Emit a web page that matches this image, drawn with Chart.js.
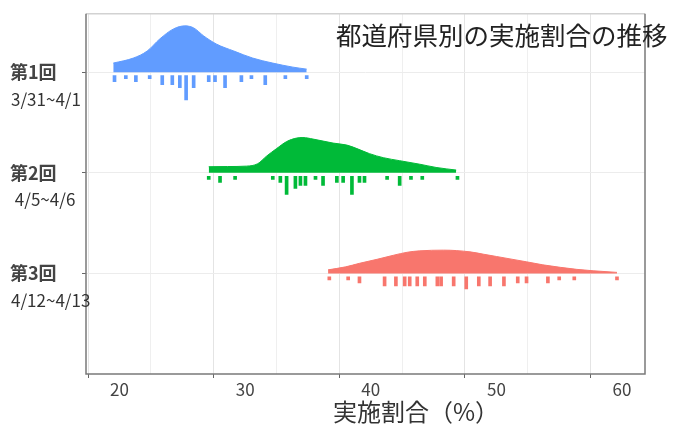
<!DOCTYPE html>
<html lang="ja">
<head>
<meta charset="utf-8">
<title>都道府県別の実施割合の推移</title>
<script src="https://cdn.jsdelivr.net/npm/chart.js@4"></script>
<style>
    html, body { margin: 0; padding: 0; background: #ffffff; }
    canvas { display: block; }
</style>
</head>
<body>
<canvas id="ridgeChart" width="675" height="428"></canvas>
<script>
// data
const rounds = ['第1回', '第2回', '第3回'];
const dates = ['3/31~4/1', ' 4/5~4/6', '4/12~4/13'];
const colors = ['#619CFF', '#00BA38', '#F8766D'];

// density outline (x = 実施割合 %, h = ridge height in row units)
const ridge1X = [19.5, 21.1, 22.2, 23.2, 24.3, 25.2, 25.9, 26.7, 27.7, 29.1, 30.6, 32.2, 33.8, 34.9];
const ridge1H = [0.09, 0.14, 0.21, 0.33, 0.43, 0.46, 0.44, 0.36, 0.28, 0.21, 0.14, 0.09, 0.05, 0.03];

const ridge2X = [27.1, 28.6, 30.1, 31.0, 31.7, 32.5, 33.3, 34.1, 34.6, 35.4, 36.2, 37.0, 38.1, 38.9, 39.9, 41.0, 42.3, 43.9, 45.2, 46.8];
const ridge2H = [0.06, 0.062, 0.066, 0.09, 0.165, 0.24, 0.31, 0.345, 0.35, 0.335, 0.315, 0.295, 0.275, 0.24, 0.19, 0.15, 0.12, 0.085, 0.053, 0.027];

const ridge3X = [36.6, 38.0, 39.1, 40.5, 41.8, 42.9, 43.9, 45.8, 47.9, 49.0, 50.0, 52.4, 53.7, 55.1, 56.4, 57.7, 59.6];
const ridge3H = [0.035, 0.065, 0.10, 0.14, 0.18, 0.21, 0.224, 0.231, 0.214, 0.19, 0.168, 0.115, 0.085, 0.06, 0.04, 0.026, 0.01];

// rug marks: prefecture values and how many share each mark
const rug1X = [19.6, 20.5, 21.3, 22.4, 23.4, 24.2, 24.8, 25.3, 25.9, 27.1, 27.6, 28.4, 29.7, 30.5, 31.6, 33.2, 34.9];
const rug1N = [2, 1, 2, 1, 3, 3, 4, 8, 4, 2, 2, 4, 2, 1, 3, 1, 1];

const rug2X = [27.1, 28.0, 29.2, 32.2, 32.8, 33.3, 34.0, 34.4, 34.8, 35.6, 36.2, 37.3, 37.8, 38.5, 39.1, 39.5, 41.3, 42.3, 43.2, 44.1, 46.9];
const rug2N = [1, 2, 1, 1, 2, 6, 4, 3, 3, 1, 3, 2, 2, 6, 2, 2, 1, 3, 1, 1, 1];

const rug3X = [36.7, 38.2, 39.1, 41.1, 42.0, 42.7, 43.1, 43.7, 44.3, 45.3, 45.6, 46.6, 47.6, 48.6, 49.5, 50.6, 51.7, 52.4, 54.1, 55.0, 56.2, 59.6];
const rug3N = [1, 1, 2, 3, 3, 3, 3, 3, 3, 3, 3, 3, 4, 3, 3, 3, 2, 2, 2, 1, 1, 1];

const xTicks = [20, 30, 40, 50, 60];

document.addEventListener('DOMContentLoaded', () => {

    Chart.defaults.font.family = '"Noto Sans CJK JP", "Noto Sans", sans-serif';

    const ridgesX = [ridge1X, ridge2X, ridge3X];
    const ridgesH = [ridge1H, ridge2H, ridge3H];
    const rugsX = [rug1X, rug2X, rug3X];
    const rugsN = [rug1N, rug2N, rug3N];

    const rugGap = 0.035;   // space between baseline and rug
    const rugUnit = 0.03;   // length of one count

    // row i sits at y = 3, 2, 1
    const baseOf = i => rounds.length - i;

    const datasets = [];
    rounds.forEach((name, i) => {
        const base = baseOf(i);
        datasets.push({
            type: 'line',
            label: name,
            data: ridgesX[i].map((x, j) => ({ x: x, y: base + ridgesH[i][j] })),
            borderColor: colors[i],
            backgroundColor: colors[i],
            borderWidth: 1,
            pointRadius: 0,
            cubicInterpolationMode: 'monotone',
            fill: { value: base }
        });
        datasets.push({
            type: 'bar',
            label: name + ' rug',
            data: rugsX[i].map((x, j) => ({ x: x, y: [base - rugGap, base - rugGap - rugsN[i][j] * rugUnit] })),
            backgroundColor: colors[i],
            barThickness: 3,
            grouped: false
        });
    });

    const extras = {
        id: 'extras',
        afterDraw(chart) {
            const { ctx, chartArea: a, scales } = chart;
            ctx.save();
            // panel frame
            ctx.lineWidth = 1.5;
            ctx.strokeStyle = '#d2d2d2';
            ctx.beginPath();
            ctx.moveTo(a.left, a.top);
            ctx.lineTo(a.right, a.top);
            ctx.stroke();
            ctx.strokeStyle = '#7a7a7a';
            ctx.beginPath();
            ctx.moveTo(a.left, a.top);
            ctx.lineTo(a.left, a.bottom);
            ctx.lineTo(a.right, a.bottom);
            ctx.lineTo(a.right, a.top);
            ctx.stroke();

            // dates under each round label
            ctx.fillStyle = '#333333';
            ctx.font = '17px "Noto Sans CJK JP", sans-serif';
            ctx.textAlign = 'left';
            ctx.textBaseline = 'middle';
            dates.forEach((d, i) => {
                ctx.fillText(d, 11, scales.y.getPixelForValue(baseOf(i)) + 27);
            });

            // heading
            ctx.fillStyle = '#222222';
            ctx.font = '25.5px "Noto Sans CJK JP", sans-serif';
            ctx.fillText('都道府県別の実施割合の推移', 336, 35);

            // x axis title
            ctx.fillStyle = '#333333';
            ctx.font = '24px "Noto Sans CJK JP", sans-serif';
            ctx.textAlign = 'center';
            ctx.fillText('実施割合（%）', 416, 412);
            ctx.restore();
        }
    };

    const ctx = document.getElementById('ridgeChart').getContext('2d');
    new Chart(ctx, {
        type: 'line',
        data: { datasets: datasets },
        options: {
            responsive: false,
            animation: false,
            layout: { padding: { left: 10, right: 30, top: 12, bottom: 0 } },
            plugins: {
                legend: { display: false },
                tooltip: { enabled: false }
            },
            scales: {
                x: {
                    type: 'linear',
                    min: 17.33,
                    max: 61.83,
                    offset: false,
                    border: { display: false },
                    afterFit: scale => { scale.height = 54; },
                    grid: {
                        color: c => (c.tick && c.tick.value % 10 === 0) ? '#e4e4e4' : '#efefef',
                        tickColor: c => (c.tick && c.tick.value % 10 === 0) ? '#666666' : 'rgba(0,0,0,0)',
                        tickLength: 4
                    },
                    ticks: {
                        stepSize: 5,
                        includeBounds: false,
                        maxRotation: 0,
                        autoSkip: false,
                        padding: 1,
                        color: '#444444',
                        font: { size: 17 },
                        callback: v => xTicks.includes(v) ? String(v) : ''
                    }
                },
                y: {
                    type: 'linear',
                    min: 0,
                    max: 3.58,
                    border: { display: false },
                    afterFit: scale => { scale.width = 76; },
                    afterBuildTicks: scale => {
                        scale.ticks = rounds.map((r, i) => ({ value: baseOf(i) }));
                    },
                    grid: {
                        color: '#ececec',
                        tickColor: '#666666',
                        tickLength: 4
                    },
                    ticks: {
                        crossAlign: 'far',
                        color: '#444444',
                        font: { size: 18, weight: 'bold' },
                        callback: v => rounds[rounds.length - v]
                    }
                }
            }
        },
        plugins: [extras]
    });
});
</script>
</body>
</html>
